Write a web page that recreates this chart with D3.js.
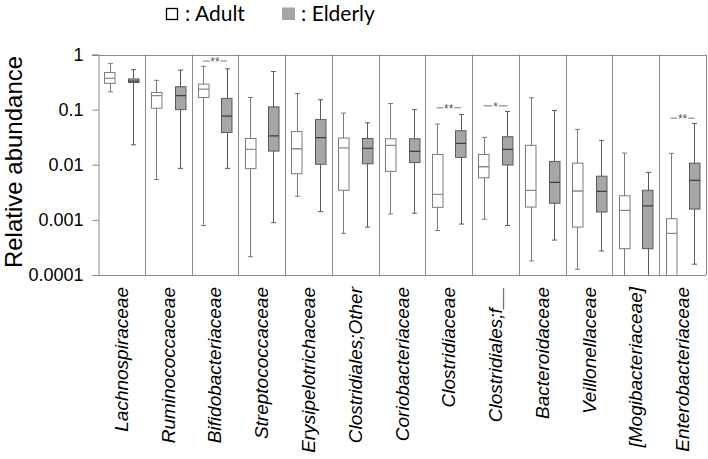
<!DOCTYPE html>
<html><head><meta charset="utf-8">
<script src="https://cdn.jsdelivr.net/npm/d3@7"></script>
<style>body{margin:0;background:#fff}svg{display:block}</style>
</head><body><svg id="c" width="708" height="459"></svg>
<script>
const categories = ["Lachnospiraceae","Ruminococcaceae","Bifidobacteriaceae","Streptococcaceae","Erysipelotrichaceae","Clostridiales;Other","Coriobacteriaceae","Clostridiaceae","Clostridiales;f__","Bacteroidaceae","Veillonellaceae","[Mogibacteriaceae]","Enterobacteriaceae"];
// [whisker low, Q1, median, Q3, whisker high]
const adult = [
  [0.21,0.30,0.37,0.47,0.69],
  [0.0054,0.106,0.18,0.205,0.34],
  [0.00079,0.166,0.235,0.29,0.61],
  [0.000215,0.0085,0.019,0.030,0.166],
  [0.00268,0.00687,0.0195,0.040,0.196],
  [0.00057,0.00344,0.0203,0.0305,0.0865],
  [0.00128,0.0076,0.0225,0.0296,0.129],
  [0.00064,0.00169,0.00291,0.0154,0.0546],
  [0.00103,0.0058,0.0092,0.0154,0.0314],
  [0.00018,0.00171,0.00344,0.0225,0.164],
  [0.000127,0.00074,0.00334,0.0107,0.0438],
  [0.00008,0.0003,0.00149,0.00274,0.0163],
  [0.00008,0.00008,0.00057,0.00105,0.0161]
];
const elderly = [
  [0.023,0.31,0.33,0.36,0.53],
  [0.0086,0.10,0.18,0.26,0.52],
  [0.0086,0.0386,0.076,0.16,0.55],
  [0.00089,0.0177,0.0335,0.112,0.49],
  [0.00141,0.0102,0.031,0.066,0.151],
  [0.00074,0.0104,0.0198,0.030,0.0577],
  [0.00132,0.011,0.0175,0.0296,0.10],
  [0.00084,0.0136,0.0244,0.0413,0.0818],
  [0.00079,0.0099,0.019,0.0322,0.0927],
  [0.00043,0.002,0.0048,0.0115,0.0967],
  [0.000273,0.00139,0.0033,0.0062,0.0277],
  [0.00008,0.0003,0.00179,0.00344,0.00728],
  [0.000157,0.00157,0.0052,0.0107,0.0562]
];
const sigCategories = ["Bifidobacteriaceae","Clostridiaceae","Clostridiales;f__","Enterobacteriaceae"];
const sigMarks = ["**","**","*","**"];
const sigLevels = [0.76, 0.108, 0.117, 0.070];
const yTicks = [1, 0.1, 0.01, 0.001, 0.0001];
const yTickLabels = ["1","0.1","0.01","0.001","0.0001"];
const seriesNames = ["Adult","Elderly"];

const svg = d3.select("#c");
const L = 98, R = 706, T = 54.5, B = 275;
const x = d3.scaleBand().domain(categories).range([L, R]);
const y = d3.scaleLog().domain([1e-4, 1]).range([B, T]);
const off = 11.8, bw = 10.5;
const borderCol = "#8a8a8a";

svg.append("defs").append("clipPath").attr("id","pc").append("rect")
  .attr("x",L).attr("y",T).attr("width",R-L).attr("height",B-T);

// y axis
const yAxis = d3.axisLeft(y).tickValues(yTicks).tickFormat((d,i)=>yTickLabels[i]).tickSize(6).tickPadding(9);
const ga = svg.append("g").attr("transform",`translate(${L+0.5},0)`).call(yAxis);
ga.select(".domain").attr("stroke",borderCol);
ga.selectAll(".tick line").attr("stroke",borderCol);
ga.selectAll(".tick text").attr("font-family","Liberation Sans, Arial, sans-serif").attr("font-size",18).attr("fill","#000");

// frame
const fr = svg.append("g").attr("stroke",borderCol).attr("fill","none").attr("stroke-width",1);
fr.append("line").attr("x1",L-6).attr("x2",R).attr("y1",Math.round(T)+0.5).attr("y2",Math.round(T)+0.5);
fr.append("line").attr("x1",L-6).attr("x2",R).attr("y1",B+0.5).attr("y2",B+0.5);
categories.forEach(c=>{
  const xx = Math.round(x(c)+x.bandwidth())+0.5;
  fr.append("line").attr("x1",xx).attr("x2",xx).attr("y1",T).attr("y2",B);
});

// boxes
const plot = svg.append("g").attr("clip-path","url(#pc)");
function drawBox(cx, s, fill, stroke, medStroke){
  const g = plot.append("g");
  const px = Math.round(cx)+0.5;
  g.append("line").attr("x1",px).attr("x2",px).attr("y1",y(s[0])).attr("y2",y(s[4])).attr("stroke",stroke);
  [s[0],s[4]].forEach(v=>{
    g.append("line").attr("x1",px-2.5).attr("x2",px+2.5).attr("y1",y(v)).attr("y2",y(v)).attr("stroke",stroke);
  });
  g.append("rect").attr("x",Math.round(cx-bw/2)+0.5).attr("width",bw)
    .attr("y",y(s[3])).attr("height",y(s[1])-y(s[3]))
    .attr("fill",fill).attr("stroke",stroke);
  g.append("line").attr("x1",Math.round(cx-bw/2)+0.5).attr("x2",Math.round(cx-bw/2)+0.5+bw)
    .attr("y1",y(s[2])).attr("y2",y(s[2])).attr("stroke",medStroke).attr("stroke-width",1.3);
}
categories.forEach((c,i)=>{
  const cx = x(c)+x.bandwidth()/2;
  drawBox(cx-off, adult[i], "#fff", "#7a7a7a", "#8a8a8a");
  drawBox(cx+off, elderly[i], "#a6a6a6", "#5a5a5a", "#3f3f3f");
});

// significance
sigCategories.forEach((c,i)=>{
  const cx = x(c)+x.bandwidth()/2;
  const yy = y(sigLevels[i]);
  const half = 12, tw = sigMarks[i].length*4.5+2;
  svg.append("line").attr("x1",cx-half).attr("x2",cx-tw/2).attr("y1",yy).attr("y2",yy).attr("stroke","#777");
  svg.append("line").attr("x1",cx+tw/2).attr("x2",cx+half).attr("y1",yy).attr("y2",yy).attr("stroke","#777");
  svg.append("text").attr("x",cx).attr("y",yy+5).attr("text-anchor","middle")
    .attr("font-family","Liberation Sans, Arial, sans-serif").attr("font-size",12).attr("fill","#555").text(sigMarks[i]);
});

// x labels
categories.forEach(c=>{
  const cx = x(c)+x.bandwidth()/2;
  svg.append("text").attr("transform",`translate(${cx+6.5},287) rotate(-90)`)
    .attr("text-anchor","end").attr("font-family","Liberation Sans, Arial, sans-serif")
    .attr("font-style","italic").attr("font-size",19).attr("fill","#000").text(c);
});

// y title
svg.append("text").attr("transform",`translate(22,162) rotate(-90)`).attr("text-anchor","middle")
  .attr("font-family","Liberation Sans, Arial, sans-serif").attr("font-size",24).attr("fill","#000").text("Relative abundance");

// legend
const lg = svg.append("g").attr("font-family","Lato, 'Open Sans', sans-serif").attr("font-size",21).attr("fill","#000");
lg.append("rect").attr("x",166.5).attr("y",8.5).attr("width",11).attr("height",11).attr("fill","#fff").attr("stroke","#000").attr("stroke-width",1.3);
lg.append("text").attr("x",185).attr("y",21).text(": "+seriesNames[0]);
lg.append("rect").attr("x",282).attr("y",7.5).attr("width",13).attr("height",12.5).attr("fill","#a6a6a6");
lg.append("text").attr("x",301).attr("y",21).text(": "+seriesNames[1]);
</script></body></html>
